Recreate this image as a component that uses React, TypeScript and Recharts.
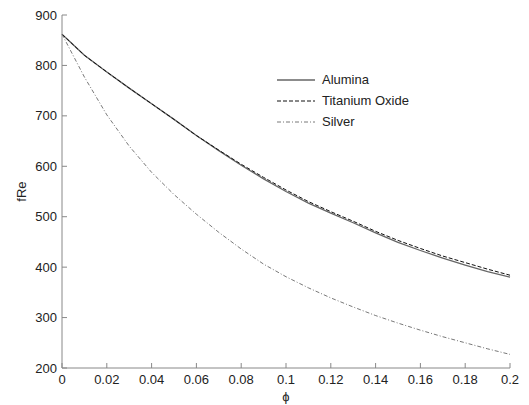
import { LineChart, Line, XAxis, YAxis, Legend } from "recharts";

const phi = [
  0, 0.01, 0.02, 0.03, 0.04, 0.05, 0.06, 0.07, 0.08, 0.09, 0.1, 0.11, 0.12, 0.13, 0.14, 0.15, 0.16,
  0.17, 0.18, 0.19, 0.2,
];
const alumina = [
  862, 820, 787, 755, 724, 693, 661, 631, 602, 575, 550, 527, 507, 488, 468, 449, 433, 418, 404,
  391, 380,
];
const titanium = [
  862, 820, 787, 755, 724, 693, 661, 632, 604, 578, 553, 530, 510, 491, 471, 453, 437, 422, 409,
  396, 384,
];
const silver = [
  862, 777, 702, 640, 588, 544, 505, 469, 436, 406, 381, 359, 339, 321, 304, 289, 275, 262, 250,
  238, 227,
];
const xTicks = [0, 0.02, 0.04, 0.06, 0.08, 0.1, 0.12, 0.14, 0.16, 0.18, 0.2];
const yTicks = [200, 300, 400, 500, 600, 700, 800, 900];

const data = phi.map((p, i) => ({
  phi: p,
  alumina: alumina[i],
  titanium: titanium[i],
  silver: silver[i],
}));

const series = [
  { key: "alumina", name: "Alumina", color: "#666", width: 1.3, dash: undefined },
  { key: "titanium", name: "Titanium Oxide", color: "#111", width: 1, dash: "4 2" },
  { key: "silver", name: "Silver", color: "#555", width: 0.8, dash: "4 2 1 2" },
];

const font = "'Liberation Sans', Arial, sans-serif";
const axisColor = "#888";
const textColor = "#222";

function LegendBox() {
  return (
    <div style={{ fontFamily: font, fontSize: 13, color: textColor }}>
      {series.map((s) => (
        <div key={s.key} style={{ display: "flex", alignItems: "center", height: 21 }}>
          <svg width={38} height={6} style={{ marginRight: 7 }}>
            <line
              x1={0}
              y1={3}
              x2={38}
              y2={3}
              stroke={s.color}
              strokeWidth={s.width}
              strokeDasharray={s.dash}
            />
          </svg>
          <span>{s.name}</span>
        </div>
      ))}
    </div>
  );
}

export default function App() {
  const tick = { fill: textColor, fontSize: 13, fontFamily: font };
  return (
    <div style={{ position: "absolute", left: 0, top: 0, width: 529, height: 405, background: "#fff" }}>
      <LineChart width={529} height={405} data={data} margin={{ top: 15, right: 19, left: 0, bottom: 0 }}>
        <XAxis
          dataKey="phi"
          type="number"
          domain={[0, 0.2]}
          ticks={xTicks}
          interval={0}
          tickSize={-5}
          tickMargin={12}
          height={37}
          stroke={axisColor}
          tick={tick}
          tickFormatter={(v: number) => String(v)}
          label={{ value: "ϕ", position: "insideBottom", offset: 4, fill: textColor, fontSize: 13, fontFamily: font }}
        />
        <XAxis
          xAxisId="top"
          orientation="top"
          type="number"
          domain={[0, 0.2]}
          ticks={xTicks}
          interval={0}
          tickSize={-5}
          height={0}
          stroke={axisColor}
          tickFormatter={() => ""}
        />
        <YAxis
          type="number"
          domain={[200, 900]}
          ticks={yTicks}
          interval={0}
          tickSize={-5}
          tickMargin={10}
          width={62}
          stroke={axisColor}
          tick={tick}
          label={{ value: "fRe", angle: -90, position: "center", dx: -10, fill: textColor, fontSize: 13, fontFamily: font }}
        />
        <YAxis
          yAxisId="right"
          orientation="right"
          type="number"
          domain={[200, 900]}
          ticks={yTicks}
          interval={0}
          tickSize={-5}
          width={0}
          stroke={axisColor}
          tickFormatter={() => ""}
        />
        <Legend
          layout="horizontal"
          verticalAlign="middle"
          align="center"
          wrapperStyle={{ left: 277, top: 69, width: 200 }}
          content={() => <LegendBox />}
        />
        {series.map((s) => (
          <Line
            key={s.key}
            dataKey={s.key}
            name={s.name}
            type="linear"
            stroke={s.color}
            strokeWidth={s.width}
            strokeDasharray={s.dash}
            dot={false}
            isAnimationActive={false}
          />
        ))}
      </LineChart>
    </div>
  );
}
